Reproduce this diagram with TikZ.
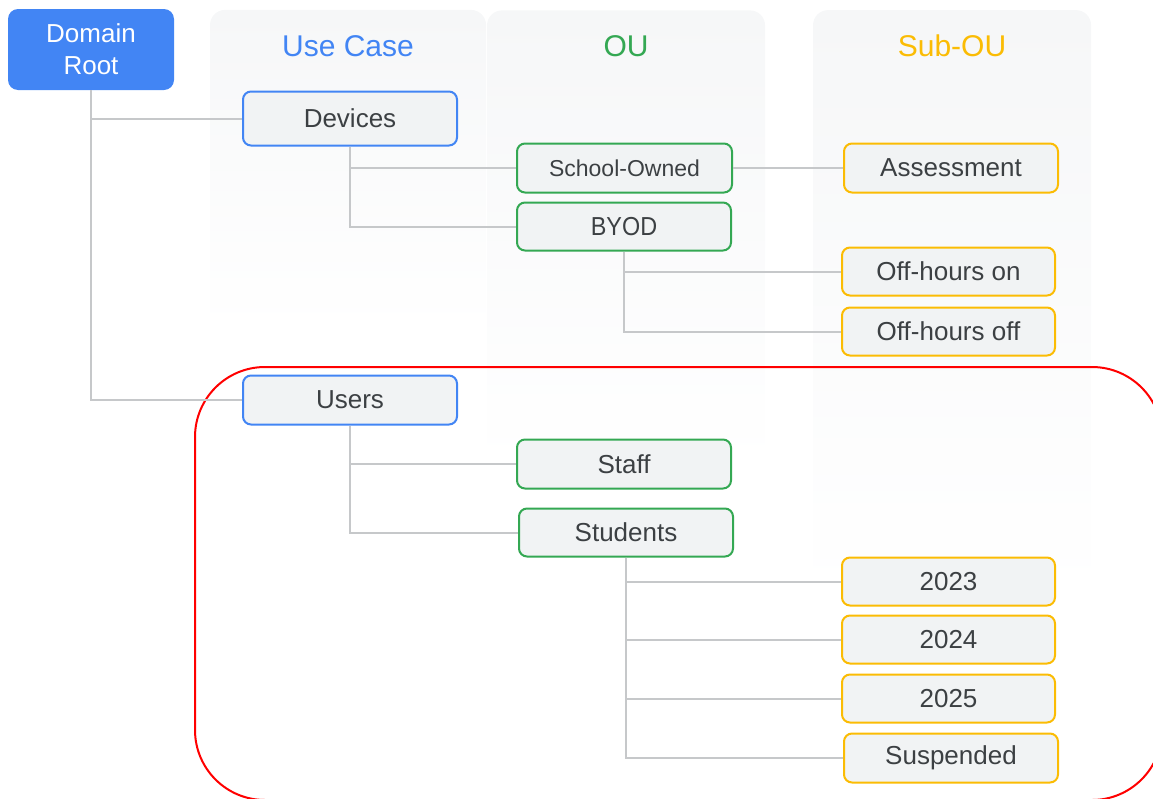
\documentclass[tikz,border=0pt]{standalone}
\usepackage{fontspec}
\usepackage{graphicx}
\usetikzlibrary{fadings}
\setmainfont{Liberation Sans}
\definecolor{gblue}{HTML}{4285F4}
\definecolor{ggreen}{HTML}{34A853}
\definecolor{gyellow}{HTML}{FBBC04}
\definecolor{boxfill}{HTML}{F1F3F4}
\definecolor{txt}{HTML}{3C4043}
\definecolor{wire}{HTML}{C6C8CA}
\definecolor{panelgray}{HTML}{F6F7F8}
\newcommand\squeeze[2]{\scalebox{#1}[1]{#2}}
\tikzset{
  panel/.style={rounded corners=15pt, fill=panelgray, draw=none, path fading=south},
  header/.style={font=\fontsize{30}{36}\selectfont, anchor=center},
  box/.style={draw, line width=2pt, rounded corners=8pt, fill=boxfill, text=txt,
    font=\fontsize{26}{30}\selectfont, inner sep=0pt, minimum width=214pt, minimum height=49pt},
  casebox/.style={box, draw=gblue},
  oubox/.style={box, draw=ggreen},
  subbox/.style={box, draw=gyellow, minimum width=213pt},
  conn/.style={draw=wire, line width=2pt},
}
\begin{document}
\begin{tikzpicture}[x=1pt, y=-1pt]
\useasboundingbox (0,0) rectangle (1153,798);
\clip (0,0) rectangle (1153,798);

% column panels, fading out towards the bottom
\path[panel] (210,10) rectangle (486,330);
\path[panel] (487,10) rectangle (765,470);
\path[panel] (813,10) rectangle (1091,600);

% column headers
\node[header, text=gblue]   (hcase) at (348,46) {Use Case};
\node[header, text=ggreen]  (hou)   at (626,46) {OU};
\node[header, text=gyellow] (hsub)  at (952,46) {Sub-OU};

% highlight around the user branch
\draw[red, line width=2pt, rounded corners=70pt] (195,367) rectangle (1162,800);

% root
\node[draw=none, fill=gblue, rounded corners=10pt, text=white, inner sep=0pt,
      minimum width=166pt, minimum height=81pt, align=center,
      font=\fontsize{26}{32}\selectfont] (root) at (91,49.5) {Domain\\Root};

% use cases
\node[casebox, minimum height=54pt] (dev) at (350,118.5) {Devices};
\node[casebox] (users) at (350,400) {Users};

% OUs
\node[oubox, minimum width=215pt, font=\fontsize{23}{26}\selectfont] (school) at (624.5,168) {School-Owned};
\node[oubox, minimum height=48pt] (byod) at (624,226.5) {\squeeze{0.9}{BYOD}};
\node[oubox] (staff) at (624,464) {Staff};
\node[oubox, minimum height=48pt] (students) at (626,532.5) {Students};

% sub-OUs
\node[subbox, minimum width=214pt] (assess) at (951,168) {Assessment};
\node[subbox, minimum height=48pt] (offon)  at (948.5,271.5) {Off-hours on};
\node[subbox, minimum height=48pt] (offoff) at (948.5,331.5) {Off-hours off};
\node[subbox, minimum height=48pt] (y23) at (948.5,581.5) {2023};
\node[subbox, minimum height=48pt] (y24) at (948.5,639.5) {2024};
\node[subbox, minimum height=48pt] (y25) at (948.5,698.5) {2025};
\node[subbox, minimum width=214pt] (susp) at (951,758) {Suspended};

% connectors
\draw[conn] (root.south) |- (dev.west);
\draw[conn] (root.south) |- (users.west);
\draw[conn] (dev.south) |- (school.west);
\draw[conn] (dev.south) |- (byod.west);
\draw[conn] (school.east) -- (assess.west);
\draw[conn] (byod.south) |- (offon.west);
\draw[conn] (byod.south) |- (offoff.west);
\draw[conn] (users.south) |- (staff.west);
\draw[conn] (users.south) |- (students.west);
\draw[conn] (students.south) |- (y23.west);
\draw[conn] (students.south) |- (y24.west);
\draw[conn] (students.south) |- (y25.west);
\draw[conn] (students.south) |- (susp.west);
\end{tikzpicture}
\end{document}
